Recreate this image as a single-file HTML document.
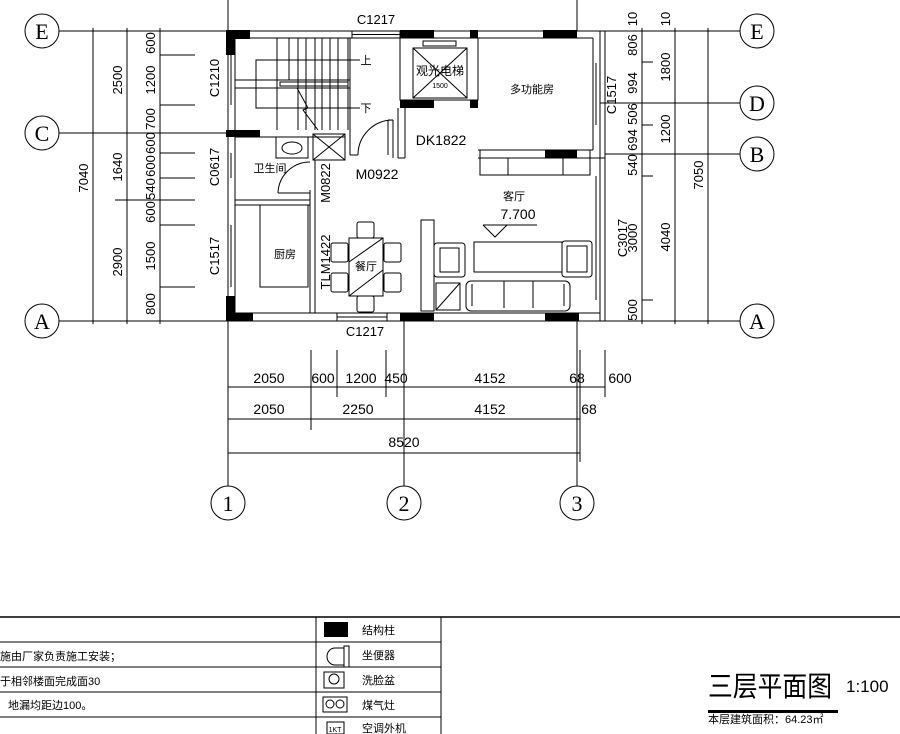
<!DOCTYPE html>
<html><head><meta charset="utf-8"><style>
html,body{margin:0;padding:0;background:#fff;width:900px;height:734px;overflow:hidden}
svg{display:block}
text{font-family:"Liberation Sans","Noto Sans CJK SC",sans-serif;fill:#000}
</style></head><body>
<svg width="900" height="734" viewBox="0 0 900 734" xmlns="http://www.w3.org/2000/svg">
<g stroke="#000" stroke-width="1" fill="none">
<line x1="59" y1="31" x2="228" y2="31"/><line x1="59" y1="133" x2="228" y2="133"/><line x1="59" y1="321" x2="228" y2="321"/>
<line x1="600" y1="31" x2="740" y2="31"/><line x1="600" y1="103" x2="740" y2="103"/><line x1="605" y1="154" x2="740" y2="154"/><line x1="600" y1="321" x2="740" y2="321"/>
<line x1="228" y1="0" x2="228" y2="31"/><line x1="577" y1="0" x2="577" y2="31"/>
<line x1="228" y1="321" x2="228" y2="486"/><line x1="404" y1="321" x2="404" y2="486"/><line x1="577" y1="321" x2="577" y2="486"/>
<circle cx="42" cy="31" r="17"/><circle cx="42" cy="133" r="17"/><circle cx="42" cy="321" r="17"/>
<circle cx="757" cy="31" r="17"/><circle cx="757" cy="103" r="17"/><circle cx="757" cy="154" r="17"/><circle cx="757" cy="321" r="17"/>
<circle cx="228" cy="503" r="17"/><circle cx="404" cy="503" r="17"/><circle cx="577" cy="503" r="17"/>
<line x1="93" y1="28" x2="93" y2="324"/><line x1="127" y1="28" x2="127" y2="324"/><line x1="160" y1="28" x2="160" y2="324"/>
<g>
<line x1="160" y1="55" x2="195" y2="55"/><line x1="160" y1="105" x2="195" y2="105"/><line x1="160" y1="153" x2="195" y2="153"/><line x1="160" y1="178" x2="195" y2="178"/><line x1="115" y1="200" x2="195" y2="200"/><line x1="160" y1="225" x2="195" y2="225"/><line x1="160" y1="287" x2="195" y2="287"/>
</g>
<line x1="642" y1="28" x2="642" y2="324"/><line x1="675" y1="28" x2="675" y2="324"/><line x1="708" y1="28" x2="708" y2="324"/>
<line x1="642" y1="62" x2="653" y2="62"/><line x1="642" y1="125" x2="653" y2="125"/><line x1="642" y1="176" x2="653" y2="176"/><line x1="642" y1="300" x2="653" y2="300"/>
<line x1="228" y1="387" x2="605" y2="387"/><line x1="228" y1="419" x2="580" y2="419"/><line x1="228" y1="453" x2="580" y2="453"/>
<line x1="311" y1="350" x2="311" y2="430"/><line x1="337" y1="350" x2="337" y2="397"/><line x1="386" y1="350" x2="386" y2="397"/><line x1="580" y1="350" x2="580" y2="462"/><line x1="605" y1="350" x2="605" y2="397"/>
<line x1="228" y1="31" x2="600" y2="31"/><line x1="235" y1="38" x2="400" y2="38"/><line x1="478" y1="38" x2="593" y2="38"/>
<line x1="228" y1="31" x2="228" y2="321"/><line x1="235" y1="38" x2="235" y2="313"/>
<line x1="600" y1="31" x2="600" y2="321"/><line x1="605" y1="31" x2="605" y2="321"/><line x1="593" y1="38" x2="593" y2="150"/>
<line x1="228" y1="321" x2="605" y2="321"/><line x1="235" y1="313" x2="600" y2="313"/>
<rect x="352" y="31" width="48" height="7"/><line x1="352" y1="34.5" x2="400" y2="34.5"/>
<rect x="337" y="313" width="50" height="8"/><line x1="337" y1="317" x2="387" y2="317"/>
<line x1="231" y1="55" x2="231" y2="105"/><line x1="231" y1="153" x2="231" y2="178"/><line x1="231" y1="225" x2="231" y2="287"/>
<line x1="596" y1="63" x2="596" y2="125"/><line x1="596" y1="176" x2="596" y2="300"/>
<rect x="256" y="60" width="94" height="48"/>
<line x1="235" y1="80" x2="350" y2="80"/><line x1="235" y1="88" x2="350" y2="88"/>
<rect x="280" y="82" width="68" height="4"/>
<line x1="277" y1="38" x2="277" y2="130"/><line x1="289" y1="38" x2="289" y2="80"/><line x1="298" y1="38" x2="298" y2="130"/><line x1="306" y1="38" x2="306" y2="130"/><line x1="315" y1="38" x2="315" y2="130"/><line x1="322" y1="38" x2="322" y2="130"/><line x1="330" y1="38" x2="330" y2="130"/><line x1="338" y1="38" x2="338" y2="130"/><line x1="348" y1="38" x2="348" y2="130"/>
<line x1="350" y1="60" x2="360" y2="60"/><line x1="350" y1="108" x2="360" y2="108"/>
<polyline points="297,88 308,108 303,110 318,130"/>
<line x1="350" y1="38" x2="350" y2="155"/>
<rect x="400" y="38" width="78" height="62"/>
<rect x="413" y="48" width="54" height="50"/><line x1="413" y1="48" x2="467" y2="98"/><line x1="467" y1="48" x2="413" y2="98"/>
<rect x="423" y="41" width="33" height="5"/>
<line x1="405" y1="100" x2="405" y2="158"/><line x1="398" y1="108" x2="398" y2="158"/><line x1="398" y1="158" x2="405" y2="158"/>
<line x1="478" y1="38" x2="478" y2="100"/><line x1="478" y1="150" x2="593" y2="150"/><line x1="478" y1="158" x2="605" y2="158"/>
<line x1="350" y1="155" x2="358" y2="155"/><line x1="388" y1="120" x2="388" y2="155"/><line x1="393" y1="120" x2="393" y2="158"/><line x1="388" y1="120" x2="393" y2="120"/>
<path d="M358,155 A35,35 0 0 1 393,120"/>
<line x1="235" y1="137" x2="345" y2="137"/><line x1="235" y1="200" x2="310" y2="200"/><line x1="235" y1="205" x2="310" y2="205"/>
<rect x="313" y="134" width="32" height="26"/><line x1="313" y1="134" x2="345" y2="160"/><line x1="345" y1="134" x2="313" y2="160"/>
<rect x="276" y="137" width="32" height="21"/><ellipse cx="292" cy="148" rx="10" ry="6"/>
<line x1="310" y1="190" x2="310" y2="313"/><line x1="315" y1="160" x2="315" y2="313"/>
<path d="M278,193 A32,32 0 0 1 310,162"/><line x1="278" y1="193" x2="310" y2="193"/>
<rect x="260" y="205" width="48" height="82"/>
<rect x="349" y="238" width="34" height="58"/><line x1="349" y1="262" x2="383" y2="238"/><line x1="349" y1="296" x2="383" y2="270"/>
<rect x="331" y="243" width="17" height="19" rx="2"/><rect x="331" y="273" width="17" height="19" rx="2"/>
<rect x="384" y="243" width="17" height="19" rx="2"/><rect x="384" y="273" width="17" height="19" rx="2"/>
<rect x="357" y="222" width="17" height="16" rx="2"/><rect x="357" y="296" width="17" height="16" rx="2"/>
<rect x="480" y="150" width="110" height="25"/><line x1="508" y1="158" x2="508" y2="175"/><line x1="563" y1="158" x2="563" y2="175"/>
<rect x="421" y="220" width="13" height="91"/>
<rect x="434" y="243" width="31" height="34" rx="3"/><rect x="440" y="248" width="19" height="24"/>
<rect x="474" y="242" width="88" height="30"/>
<rect x="562" y="241" width="30" height="36" rx="3"/><rect x="567" y="246" width="20" height="26"/>
<rect x="436" y="283" width="24" height="27"/><line x1="436" y1="310" x2="460" y2="283"/>
<rect x="466" y="281" width="104" height="30" rx="5"/><line x1="504" y1="281" x2="504" y2="308"/><line x1="533" y1="281" x2="533" y2="308"/><line x1="472" y1="284" x2="472" y2="306"/><line x1="564" y1="284" x2="564" y2="306"/>
<polyline points="483,225 495,237 507,225"/><line x1="483" y1="225" x2="537" y2="225"/>
<line x1="0" y1="617" x2="900" y2="617" stroke-width="1.5"/>
<line x1="0" y1="642" x2="441" y2="642"/><line x1="0" y1="667" x2="441" y2="667"/><line x1="0" y1="692" x2="441" y2="692"/><line x1="0" y1="717" x2="441" y2="717"/>
<line x1="316" y1="617" x2="316" y2="734"/><line x1="441" y1="617" x2="441" y2="734"/>
<path d="M335,648 L344,648 L344,665 L335,665 A8,8.5 0 0 1 335,648 Z"/><rect x="344" y="646" width="5" height="21"/>
<rect x="324" y="672" width="20" height="16"/><circle cx="334" cy="679" r="5"/>
<rect x="323" y="697" width="24" height="15"/><circle cx="330" cy="704" r="4"/><circle cx="340" cy="704" r="4"/>
<rect x="327" y="722" width="17" height="12"/>
</g>
<g fill="#000">
<rect x="226" y="30" width="24" height="9"/><rect x="226" y="30" width="9" height="25"/>
<rect x="400" y="30" width="34" height="8"/><rect x="470" y="30" width="8" height="8"/><rect x="543" y="30" width="34" height="8"/>
<rect x="400" y="100" width="34" height="8"/><rect x="470" y="100" width="8" height="8"/>
<rect x="226" y="130" width="34" height="7"/>
<rect x="545" y="150" width="32" height="8"/>
<rect x="226" y="296" width="9" height="17"/><rect x="226" y="313" width="27" height="8"/><rect x="400" y="313" width="34" height="8"/><rect x="545" y="313" width="34" height="8"/>
<rect x="324" y="622" width="24" height="15"/>
<rect x="708" y="710" width="130" height="3"/>
</g>
<g font-size="22" text-anchor="middle">
<text x="42" y="39" style="font-family:'Liberation Serif',serif">E</text><text x="42" y="141" style="font-family:'Liberation Serif',serif">C</text><text x="42" y="329" style="font-family:'Liberation Serif',serif">A</text>
<text x="757" y="39" style="font-family:'Liberation Serif',serif">E</text><text x="757" y="111" style="font-family:'Liberation Serif',serif">D</text><text x="757" y="162" style="font-family:'Liberation Serif',serif">B</text><text x="757" y="329" style="font-family:'Liberation Serif',serif">A</text>
<text x="228" y="511" style="font-family:'Liberation Serif',serif">1</text><text x="404" y="511" style="font-family:'Liberation Serif',serif">2</text><text x="577" y="511" style="font-family:'Liberation Serif',serif">3</text>
</g>
<g font-size="13" text-anchor="middle">
<text transform="translate(88,178) rotate(-90)">7040</text>
<text transform="translate(122,80) rotate(-90)">2500</text><text transform="translate(122,167) rotate(-90)">1640</text><text transform="translate(122,262) rotate(-90)">2900</text>
<text transform="translate(155,43) rotate(-90)">600</text><text transform="translate(155,80) rotate(-90)">1200</text><text transform="translate(155,119) rotate(-90)">700</text><text transform="translate(155,143) rotate(-90)">600</text><text transform="translate(155,166) rotate(-90)">600</text><text transform="translate(155,189) rotate(-90)">540</text><text transform="translate(155,212) rotate(-90)">600</text><text transform="translate(155,256) rotate(-90)">1500</text><text transform="translate(155,304) rotate(-90)">800</text>
<text transform="translate(219,78) rotate(-90)">C1210</text><text transform="translate(219,167) rotate(-90)">C0617</text><text transform="translate(219,256) rotate(-90)">C1517</text>
<text transform="translate(637,19) rotate(-90)">10</text><text transform="translate(637,45) rotate(-90)">806</text><text transform="translate(637,83) rotate(-90)">994</text><text transform="translate(637,114) rotate(-90)">506</text><text transform="translate(637,140) rotate(-90)">694</text><text transform="translate(637,165) rotate(-90)">540</text><text transform="translate(637,238) rotate(-90)">3000</text><text transform="translate(637,310) rotate(-90)">500</text>
<text transform="translate(670,19) rotate(-90)">10</text><text transform="translate(670,67) rotate(-90)">1800</text><text transform="translate(670,129) rotate(-90)">1200</text><text transform="translate(670,237) rotate(-90)">4040</text>
<text transform="translate(703,175) rotate(-90)">7050</text>
<text transform="translate(616,95) rotate(-90)">C1517</text><text transform="translate(627,238) rotate(-90)">C3017</text>
<text transform="translate(330,183) rotate(-90)">M0822</text><text transform="translate(330,262) rotate(-90)">TLM1422</text>
<text x="376" y="24">C1217</text><text x="365" y="336">C1217</text>
<text x="441" y="145" font-size="14">DK1822</text><text x="377" y="179" font-size="14">M0922</text>
<text x="518" y="219" font-size="14">7.700</text>
<text x="269" y="383" font-size="14">2050</text><text x="323" y="383" font-size="14">600</text><text x="361" y="383" font-size="14">1200</text><text x="396" y="383" font-size="14">450</text><text x="490" y="383" font-size="14">4152</text><text x="577" y="383" font-size="14">68</text><text x="620" y="383" font-size="14">600</text>
<text x="269" y="414" font-size="14">2050</text><text x="358" y="414" font-size="14">2250</text><text x="490" y="414" font-size="14">4152</text><text x="589" y="414" font-size="14">68</text>
<text x="404" y="447" font-size="14">8520</text>
</g>
<g font-size="11" text-anchor="middle">
<text x="366" y="64">上</text><text x="366" y="112">下</text>
<text x="440" y="75" font-size="12">观光电梯</text><text x="440" y="88" font-size="7">1500</text>
<text x="532" y="93">多功能房</text><text x="270" y="172">卫生间</text><text x="285" y="258">厨房</text><text x="366" y="270">餐厅</text><text x="514" y="200">客厅</text>
<text x="362" y="634" text-anchor="start">结构柱</text><text x="362" y="659" text-anchor="start">坐便器</text><text x="362" y="684" text-anchor="start">洗脸盆</text><text x="362" y="709" text-anchor="start">煤气灶</text><text x="362" y="732" text-anchor="start">空调外机</text>
<text x="0" y="660" text-anchor="start">施由厂家负责施工安装；</text><text x="0" y="685" text-anchor="start">于相邻楼面完成面30</text><text x="8" y="709" text-anchor="start">地漏均距边100。</text>
<text x="335" y="732" font-size="7">1KT</text>
<text x="708" y="723" text-anchor="start">本层建筑面积：64.23㎡</text>
</g>
<text x="708" y="696" font-size="28" textLength="124" lengthAdjust="spacingAndGlyphs">三层平面图</text>
<text x="846" y="692" font-size="17">1:100</text>
</svg>
</body></html>
